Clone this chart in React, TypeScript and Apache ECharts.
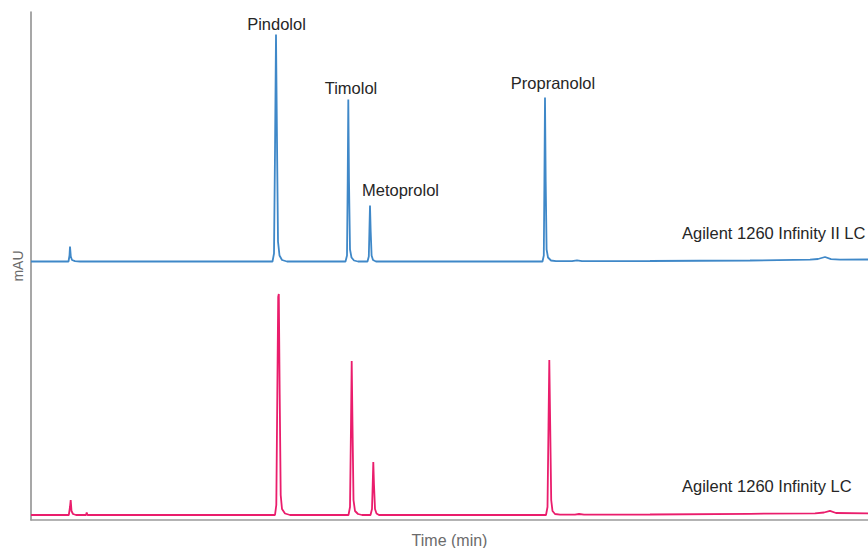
import React, { useEffect, useRef } from "react";
import * as echarts from "echarts";

// Time (min), signal (mAU, relative to each trace's own baseline)
const infinityIITime = [
  0, 0.375, 0.385, 0.39, 0.398, 0.41, 0.44, 0.49,
  2.415, 2.43, 2.44, 2.45, 2.46, 2.47, 2.485, 2.51, 2.56,
  3.145, 3.16, 3.167, 3.173, 3.18, 3.19, 3.205, 3.23, 3.27,
  3.365, 3.378, 3.384, 3.39, 3.397, 3.406, 3.42, 3.45,
  5.115, 5.128, 5.134, 5.14, 5.147, 5.156, 5.17, 5.2, 5.25,
  5.41, 5.46, 5.51,
  6.19, 7.19, 7.79, 7.87, 7.94, 8.0, 8.09, 8.37,
];
const infinityIISignal = [
  0, 0, 6, 15, 5, 1.5, 0.3, 0,
  0, 8, 110, 227, 120, 20, 6, 1.5, 0,
  0, 6, 80, 162, 80, 12, 4, 1, 0,
  0, 5, 30, 56, 30, 6, 1.5, 0,
  0, 6, 80, 164, 80, 12, 4, 1, 0.3,
  0.3, 1.2, 0.3,
  0.5, 1, 1.8, 2.5, 4.5, 2.3, 1.8, 2,
];

const infinityTime = [
  0, 0.378, 0.39, 0.397, 0.405, 0.42, 0.45, 0.55, 0.557, 0.565,
  2.44, 2.453, 2.463, 2.472, 2.478, 2.487, 2.497, 2.51, 2.54, 2.59,
  3.175, 3.19, 3.2, 3.207, 3.215, 3.225, 3.24, 3.27, 3.31,
  3.395, 3.41, 3.417, 3.423, 3.43, 3.44, 3.455, 3.48,
  5.15, 5.165, 5.175, 5.183, 5.192, 5.202, 5.215, 5.24, 5.29,
  5.44, 5.48, 5.53,
  6.19, 7.19, 7.84, 7.93, 7.99, 8.05, 8.37,
];
const infinitySignal = [
  0, 0, 8, 15, 4, 1, 0, 0, 2.5, 0,
  0, 10, 120, 218, 221, 120, 20, 6, 1.5, 0,
  0, 8, 90, 154, 90, 15, 4, 1, 0,
  0, 6, 30, 53, 30, 6, 1.5, 0,
  0, 8, 90, 155, 90, 15, 4, 1, 0.3,
  0.3, 1, 0.3,
  0.5, 1.2, 1.7, 2.5, 4.2, 2, 1.7,
];

const traceNames = ["Agilent 1260 Infinity II LC", "Agilent 1260 Infinity LC"];
const traceOffsets = [258.5, 5];
const traceColors = ["#3f88c8", "#ea1d6c"];
const peakNames = ["Pindolol", "Timolol", "Metoprolol", "Propranolol"];

const xMin = 0;
const xMax = 8.37;
const yMin = 0;
const yMax = 508;

export default function App() {
  const ref = useRef<HTMLDivElement>(null);
  useEffect(() => {
    if (!ref.current) return;
    const chart = echarts.init(ref.current, null, { renderer: "svg" });
    const build = (t: number[], s: number[], off: number) =>
      t.map((x, i) => [x, s[i] + off]);
    const font = "'Liberation Sans', Arial, sans-serif";
    const labelStyle = (text: string, x: number, y: number, align = "center") => ({
      type: "text",
      x,
      y,
      style: {
        text,
        fill: "#262626",
        font: `16.5px ${font}`,
        textAlign: align,
        textVerticalAlign: "middle",
      },
    });
    chart.setOption({
      animation: false,
      grid: { left: 31, right: 0, top: 12, bottom: 28, containLabel: false, outerBoundsMode: "none" },
      xAxis: {
        type: "value",
        min: xMin,
        max: xMax,
        name: "Time (min)",
        nameLocation: "middle",
        nameGap: 12,
        nameTextStyle: { color: "#6b6b6b", fontSize: 16, fontFamily: font },
        axisLine: { show: true, lineStyle: { color: "#9a9a9a", width: 1.5 } },
        axisTick: { show: false },
        axisLabel: { show: false },
        splitLine: { show: false },
      },
      yAxis: {
        type: "value",
        min: yMin,
        max: yMax,
        name: "mAU",
        nameLocation: "middle",
        nameGap: 6,
        nameTextStyle: { color: "#6b6b6b", fontSize: 14, fontFamily: font },
        axisLine: { show: true, lineStyle: { color: "#8a8a8a", width: 1.5 } },
        axisTick: { show: false },
        axisLabel: { show: false },
        splitLine: { show: false },
      },
      series: [
        {
          name: traceNames[0],
          type: "line",
          showSymbol: false,
          data: build(infinityIITime, infinityIISignal, traceOffsets[0]),
          lineStyle: { color: traceColors[0], width: 1.8 },
          itemStyle: { color: traceColors[0] },
        },
        {
          name: traceNames[1],
          type: "line",
          showSymbol: false,
          data: build(infinityTime, infinitySignal, traceOffsets[1]),
          lineStyle: { color: traceColors[1], width: 1.8 },
          itemStyle: { color: traceColors[1] },
        },
      ],
      graphic: [
        labelStyle(peakNames[0], 276.5, 24),
        labelStyle(peakNames[1], 351, 88),
        labelStyle(peakNames[2], 400.5, 190),
        labelStyle(peakNames[3], 553, 83),
        labelStyle(traceNames[0], 682, 233, "left"),
        labelStyle(traceNames[1], 682, 486, "left"),
      ],
    });
    return () => chart.dispose();
  }, []);
  return <div ref={ref} style={{ width: 868, height: 548, position: "absolute", left: 0, top: 0 }} />;
}
